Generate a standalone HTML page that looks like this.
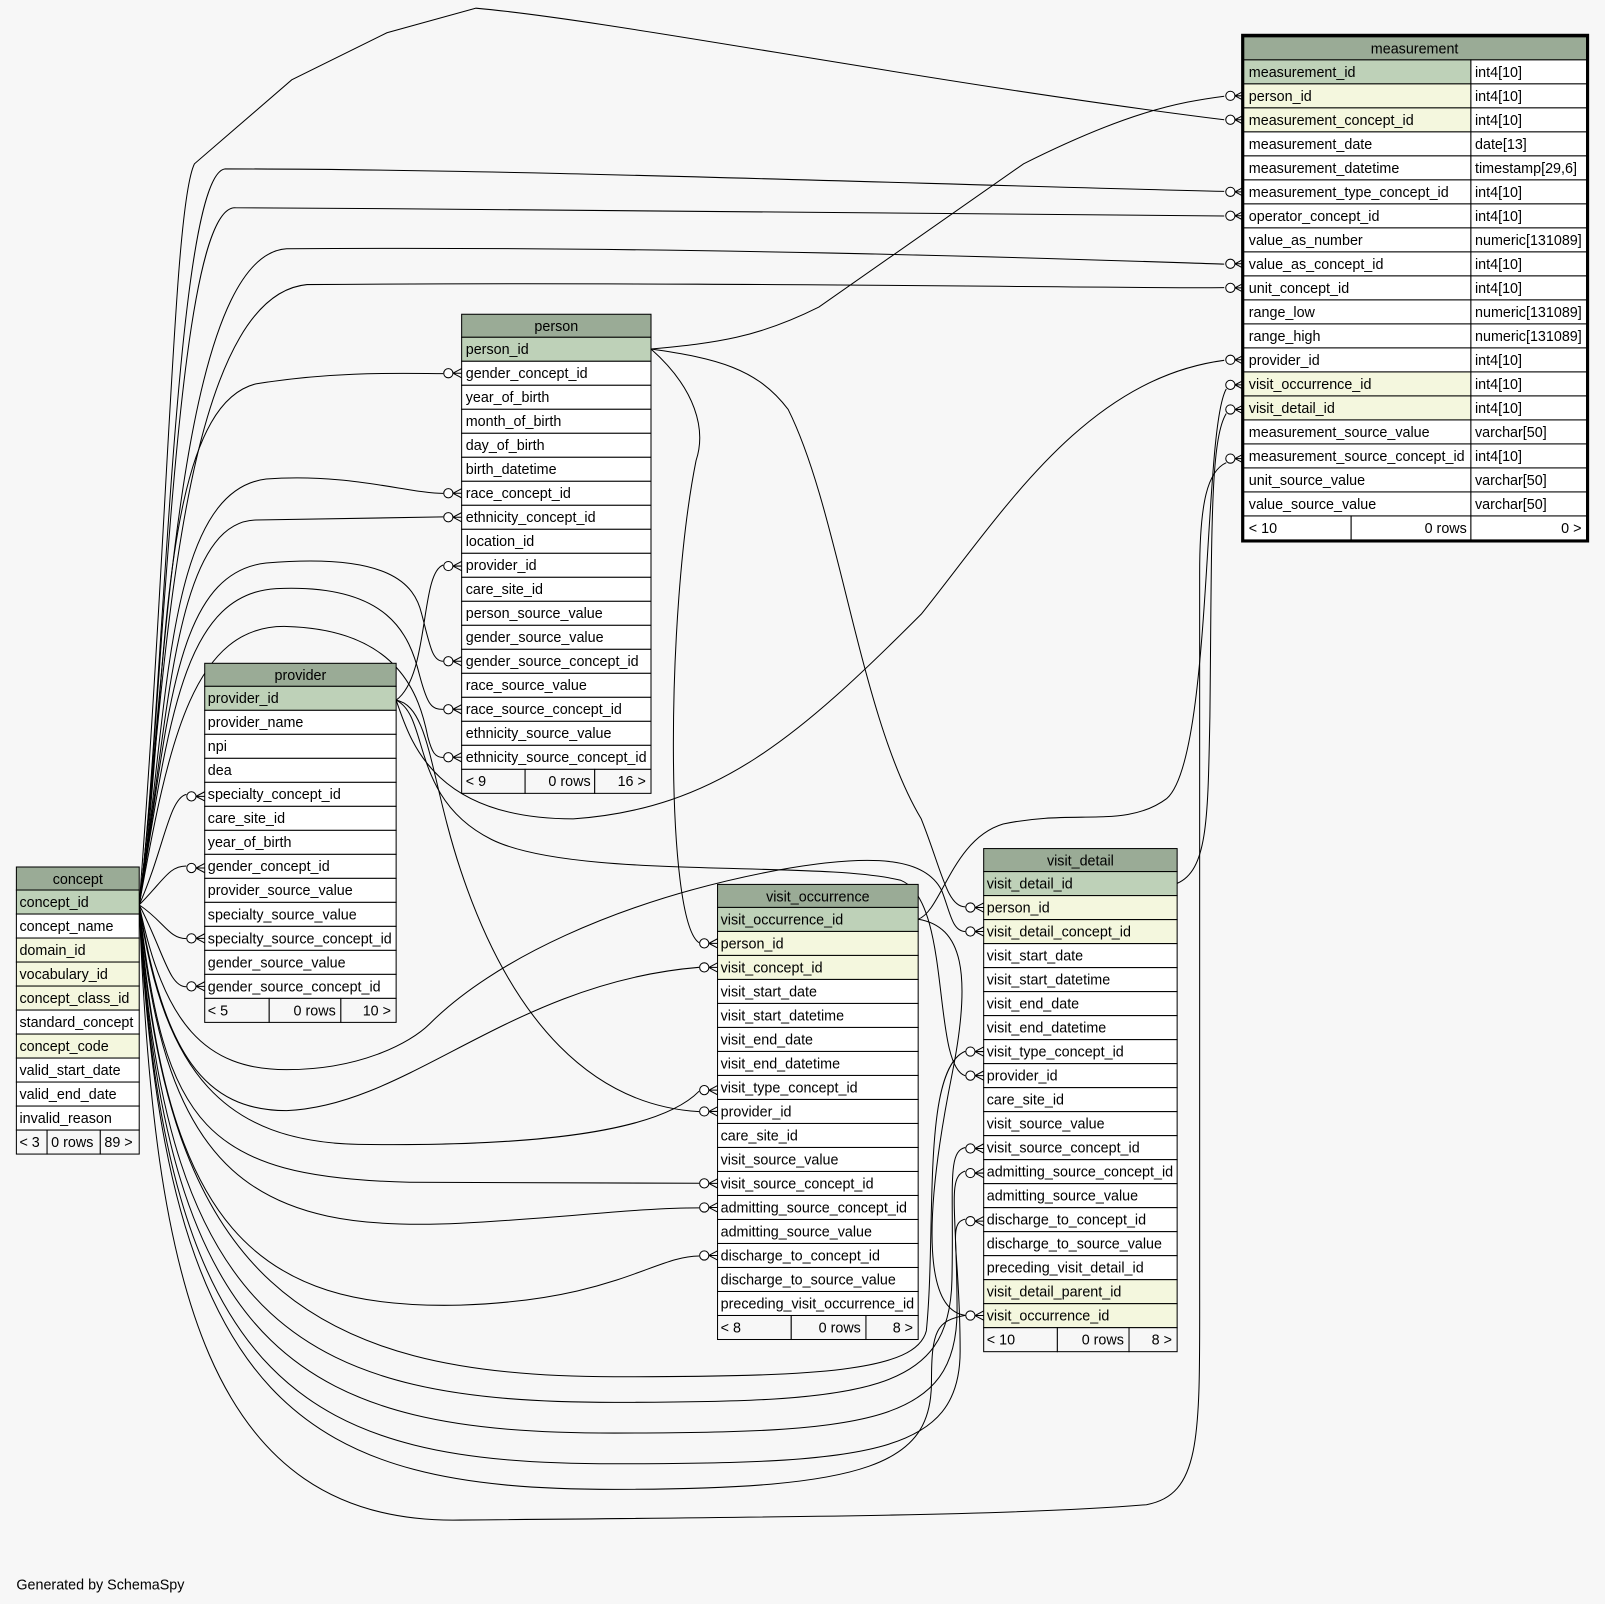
<!DOCTYPE html>
<html><head><meta charset="utf-8"><style>
html,body{margin:0;padding:0;background:#f7f7f7;width:1605px;height:1604px;overflow:hidden}
svg{display:block}
text{font-family:"Liberation Sans",Arial,sans-serif;font-size:14px;fill:#000}
.h{fill:#9aab96;stroke:#000;stroke-width:1}
.pk{fill:#bed1b8;stroke:#000;stroke-width:1}
.fk{fill:#f4f7de;stroke:#000;stroke-width:1}
.w{fill:#fff;stroke:#000;stroke-width:1}
.f{fill:#f7f7f7;stroke:#000;stroke-width:1}
.e{fill:none;stroke:#000;stroke-width:1}
.c{fill:#fff;stroke:#000;stroke-width:1}
</style></head><body>
<svg width="1605" height="1604" viewBox="0 0 1568 1567" preserveAspectRatio="none" xmlns="http://www.w3.org/2000/svg">
<rect width="1568" height="1567" fill="#f7f7f7"/>
<defs>
<g id="m"><path class="e" d="M-8.5,0 L0,-4.5 M-8.5,0 L0,0 M-8.5,0 L0,4.5"/><circle class="c" cx="-13" cy="0" r="4.5"/></g>
</defs>
<!-- edges -->
<g class="e">
<path d="M136,884 C165,500 170,200 190,160 L285,78 L378,32 L465,8 C600,20 900,80 1196,117"/>
<path d="M136,884 C160,700 170,170 220,165 C500,165 900,180 1196,187"/>
<path d="M136,884 C160,700 170,200 230,203 C600,205 1000,207 1196,211"/>
<path d="M136,884 C160,700 170,250 280,243 C700,240 1100,255 1196,258"/>
<path d="M136,884 C160,700 170,290 300,278 C700,275 1100,282 1196,281"/>
<path d="M136,884 C150,1250 200,1490 450,1485 C800,1482 1000,1480 1120,1470 C1175,1460 1172,1400 1172,1250 L1172,560 C1172,490 1180,460 1198,452"/>
<path d="M636,341 C700,335 740,330 800,300 L1000,160 C1100,110 1150,100 1196,94"/>
<path d="M387,684 C400,720 420,800 560,800 C700,790 780,720 900,600 C980,500 1060,370 1196,352"/>
<path d="M897,898 C920,890 930,820 980,805 C1050,790 1100,810 1140,780 C1185,740 1175,420 1198,380"/>
<path d="M1150,863 C1180,850 1180,800 1182,700 C1184,520 1182,430 1198,404"/>
<path d="M136,884 C165,700 150,400 250,375 C330,362 400,365 433,365"/>
<path d="M136,884 C165,700 160,480 260,468 C340,462 400,482 433,482"/>
<path d="M136,884 C165,700 170,510 250,508 L433,505"/>
<path d="M136,884 C165,700 170,560 260,550 C380,540 405,570 412,600 C420,630 422,646 433,646"/>
<path d="M136,884 C165,700 180,580 270,575 C380,570 400,620 410,660 C418,690 422,693 433,693"/>
<path d="M136,884 C165,720 190,610 280,612 C390,615 410,680 418,720 C422,735 425,740 433,740"/>
<path d="M136,884 C160,830 165,780 182,776"/>
<path d="M136,884 C160,860 165,846 182,846"/>
<path d="M136,884 C160,900 165,917 182,917"/>
<path d="M136,884 C160,930 165,964 182,964"/>
<path d="M136,884 C160,1000 200,1045 280,1045 C350,1045 400,1020 420,1000 C480,940 600,880 760,850 C860,832 905,840 920,870 C928,890 930,910 943,910"/>
<path d="M136,884 C160,1030 200,1085 280,1085 C400,1080 500,960 683,945"/>
<path d="M136,884 C160,1050 220,1115 350,1118 C500,1120 640,1110 683,1066"/>
<path d="M136,884 C160,1100 200,1150 400,1155 L683,1156"/>
<path d="M136,884 C160,1150 250,1205 450,1195 C550,1190 620,1180 683,1180"/>
<path d="M136,884 C160,1200 250,1280 450,1275 C600,1270 640,1227 683,1227"/>
<path d="M136,884 C160,1250 300,1345 600,1345 C800,1345 895,1340 905,1300 C915,1200 900,1045 943,1027"/>
<path d="M136,884 C160,1300 300,1370 600,1370 C850,1370 928,1360 930,1250 C932,1160 925,1125 943,1121"/>
<path d="M136,884 C160,1330 300,1400 600,1400 C850,1400 935,1390 935,1280 C935,1180 925,1150 943,1144"/>
<path d="M136,884 C160,1360 300,1430 600,1430 C850,1430 938,1420 938,1320 C938,1220 925,1195 943,1191"/>
<path d="M136,884 C160,1380 300,1455 600,1455 C850,1455 910,1430 910,1350 C910,1300 915,1290 943,1285"/>
<path d="M636,341 C680,380 690,420 680,450 C650,600 650,900 683,921"/>
<path d="M636,341 C700,350 740,360 770,400 C820,500 840,700 900,800 C920,850 925,886 943,886"/>
<path d="M387,684 C420,660 410,560 433,552"/>
<path d="M387,684 C420,690 420,760 450,850 C500,1000 580,1080 683,1086"/>
<path d="M387,684 C420,700 400,780 480,820 C560,860 800,840 880,860 C930,880 910,1040 943,1051"/>
<path d="M897,898 C940,905 950,950 930,1050 C900,1200 905,1280 943,1285"/>
</g>
<!-- markers -->
<use href="#m" x="1215" y="93.6"/><use href="#m" x="1215" y="117"/><use href="#m" x="1215" y="187.4"/><use href="#m" x="1215" y="210.8"/><use href="#m" x="1215" y="257.7"/><use href="#m" x="1215" y="281.2"/><use href="#m" x="1215" y="351.5"/><use href="#m" x="1215" y="376"/><use href="#m" x="1215" y="400"/><use href="#m" x="1215" y="448"/>
<use href="#m" x="451" y="364.6"/><use href="#m" x="451" y="481.9"/><use href="#m" x="451" y="505.3"/><use href="#m" x="451" y="553"/><use href="#m" x="451" y="646"/><use href="#m" x="451" y="692.9"/><use href="#m" x="451" y="739.8"/>
<use href="#m" x="200" y="778"/><use href="#m" x="200" y="848"/><use href="#m" x="200" y="916.7"/><use href="#m" x="200" y="963.6"/>
<use href="#m" x="701" y="921.6"/><use href="#m" x="701" y="945.1"/><use href="#m" x="701" y="1065"/><use href="#m" x="701" y="1085.8"/><use href="#m" x="701" y="1156.1"/><use href="#m" x="701" y="1179.6"/><use href="#m" x="701" y="1226.5"/>
<use href="#m" x="961" y="886.6"/><use href="#m" x="961" y="910"/><use href="#m" x="961" y="1027.3"/><use href="#m" x="961" y="1050.8"/><use href="#m" x="961" y="1122"/><use href="#m" x="961" y="1146"/><use href="#m" x="961" y="1193"/><use href="#m" x="961" y="1285.2"/>

<!-- measurement -->
<g transform="translate(1215,58.5)">
<rect class="h" x="0" y="-22.5" width="335" height="22.5"/><text x="167" y="-6" text-anchor="middle">measurement</text>
<rect class="pk" x="0" y="0" width="222" height="23.45"/><rect class="w" x="222" y="0" width="113" height="23.45"/>
<rect class="fk" x="0" y="23.45" width="222" height="23.45"/><rect class="w" x="222" y="23.45" width="113" height="23.45"/>
<rect class="fk" x="0" y="46.9" width="222" height="23.45"/><rect class="w" x="222" y="46.9" width="113" height="23.45"/>
<rect class="w" x="0" y="70.35" width="222" height="23.45"/><rect class="w" x="222" y="70.35" width="113" height="23.45"/>
<rect class="w" x="0" y="93.8" width="222" height="23.45"/><rect class="w" x="222" y="93.8" width="113" height="23.45"/>
<rect class="w" x="0" y="117.25" width="222" height="23.45"/><rect class="w" x="222" y="117.25" width="113" height="23.45"/>
<rect class="w" x="0" y="140.7" width="222" height="23.45"/><rect class="w" x="222" y="140.7" width="113" height="23.45"/>
<rect class="w" x="0" y="164.15" width="222" height="23.45"/><rect class="w" x="222" y="164.15" width="113" height="23.45"/>
<rect class="w" x="0" y="187.6" width="222" height="23.45"/><rect class="w" x="222" y="187.6" width="113" height="23.45"/>
<rect class="w" x="0" y="211.05" width="222" height="23.45"/><rect class="w" x="222" y="211.05" width="113" height="23.45"/>
<rect class="w" x="0" y="234.5" width="222" height="23.45"/><rect class="w" x="222" y="234.5" width="113" height="23.45"/>
<rect class="w" x="0" y="257.95" width="222" height="23.45"/><rect class="w" x="222" y="257.95" width="113" height="23.45"/>
<rect class="w" x="0" y="281.4" width="222" height="23.45"/><rect class="w" x="222" y="281.4" width="113" height="23.45"/>
<rect class="fk" x="0" y="304.85" width="222" height="23.45"/><rect class="w" x="222" y="304.85" width="113" height="23.45"/>
<rect class="fk" x="0" y="328.3" width="222" height="23.45"/><rect class="w" x="222" y="328.3" width="113" height="23.45"/>
<rect class="w" x="0" y="351.75" width="222" height="23.45"/><rect class="w" x="222" y="351.75" width="113" height="23.45"/>
<rect class="w" x="0" y="375.2" width="222" height="23.45"/><rect class="w" x="222" y="375.2" width="113" height="23.45"/>
<rect class="w" x="0" y="398.65" width="222" height="23.45"/><rect class="w" x="222" y="398.65" width="113" height="23.45"/>
<rect class="w" x="0" y="422.1" width="222" height="23.45"/><rect class="w" x="222" y="422.1" width="113" height="23.45"/>
<rect class="w" x="0" y="445.55" width="105" height="23.45"/><rect class="w" x="105" y="445.55" width="117" height="23.45"/><rect class="w" x="222" y="445.55" width="113" height="23.45"/>
<g transform="translate(5,16.5)">
<text y="0">measurement_id</text><text y="23.45">person_id</text><text y="46.9">measurement_concept_id</text><text y="70.35">measurement_date</text><text y="93.8">measurement_datetime</text><text y="117.25">measurement_type_concept_id</text><text y="140.7">operator_concept_id</text><text y="164.15">value_as_number</text><text y="187.6">value_as_concept_id</text><text y="211.05">unit_concept_id</text><text y="234.5">range_low</text><text y="257.95">range_high</text><text y="281.4">provider_id</text><text y="304.85">visit_occurrence_id</text><text y="328.3">visit_detail_id</text><text y="351.75">measurement_source_value</text><text y="375.2">measurement_source_concept_id</text><text y="398.65">unit_source_value</text><text y="422.1">value_source_value</text><text y="445.55">&lt; 10</text>
</g>
<g transform="translate(226,16.5)">
<text y="0">int4[10]</text><text y="23.45">int4[10]</text><text y="46.9">int4[10]</text><text y="70.35">date[13]</text><text y="93.8">timestamp[29,6]</text><text y="117.25">int4[10]</text><text y="140.7">int4[10]</text><text y="164.15">numeric[131089]</text><text y="187.6">int4[10]</text><text y="211.05">int4[10]</text><text y="234.5">numeric[131089]</text><text y="257.95">numeric[131089]</text><text y="281.4">int4[10]</text><text y="304.85">int4[10]</text><text y="328.3">int4[10]</text><text y="351.75">varchar[50]</text><text y="375.2">int4[10]</text><text y="398.65">varchar[50]</text><text y="422.1">varchar[50]</text>
</g>
<text x="218" y="462" text-anchor="end">0 rows</text><text x="330" y="462" text-anchor="end">0 &gt;</text>
<rect x="-1" y="-24" width="337" height="494" fill="none" stroke="#000" stroke-width="3"/>
</g>

<!-- person -->
<g transform="translate(451,329.5)">
<rect class="h" x="0" y="-22.5" width="185" height="22.5"/><text x="92.5" y="-6" text-anchor="middle">person</text>
<rect class="pk" x="0" y="0" width="185" height="23.45"/>
<rect class="w" x="0" y="23.45" width="185" height="23.45"/><rect class="w" x="0" y="46.9" width="185" height="23.45"/><rect class="w" x="0" y="70.35" width="185" height="23.45"/><rect class="w" x="0" y="93.8" width="185" height="23.45"/><rect class="w" x="0" y="117.25" width="185" height="23.45"/><rect class="w" x="0" y="140.7" width="185" height="23.45"/><rect class="w" x="0" y="164.15" width="185" height="23.45"/><rect class="w" x="0" y="187.6" width="185" height="23.45"/><rect class="w" x="0" y="211.05" width="185" height="23.45"/><rect class="w" x="0" y="234.5" width="185" height="23.45"/><rect class="w" x="0" y="257.95" width="185" height="23.45"/><rect class="w" x="0" y="281.4" width="185" height="23.45"/><rect class="w" x="0" y="304.85" width="185" height="23.45"/><rect class="w" x="0" y="328.3" width="185" height="23.45"/><rect class="w" x="0" y="351.75" width="185" height="23.45"/><rect class="w" x="0" y="375.2" width="185" height="23.45"/><rect class="w" x="0" y="398.65" width="185" height="23.45"/>
<rect class="f" x="0" y="422.1" width="62" height="23.45"/><rect class="f" x="62" y="422.1" width="68" height="23.45"/><rect class="f" x="130" y="422.1" width="55" height="23.45"/>
<g transform="translate(4,16.5)">
<text y="0">person_id</text><text y="23.45">gender_concept_id</text><text y="46.9">year_of_birth</text><text y="70.35">month_of_birth</text><text y="93.8">day_of_birth</text><text y="117.25">birth_datetime</text><text y="140.7">race_concept_id</text><text y="164.15">ethnicity_concept_id</text><text y="187.6">location_id</text><text y="211.05">provider_id</text><text y="234.5">care_site_id</text><text y="257.95">person_source_value</text><text y="281.4">gender_source_value</text><text y="304.85">gender_source_concept_id</text><text y="328.3">race_source_value</text><text y="351.75">race_source_concept_id</text><text y="375.2">ethnicity_source_value</text><text y="398.65">ethnicity_source_concept_id</text><text y="422.1">&lt; 9</text>
</g>
<text x="126" y="438.6" text-anchor="end">0 rows</text><text x="180" y="438.6" text-anchor="end">16 &gt;</text>
</g>

<!-- provider -->
<g transform="translate(200,670.5)">
<rect class="h" x="0" y="-22.5" width="187" height="22.5"/><text x="93.5" y="-6" text-anchor="middle">provider</text>
<rect class="pk" x="0" y="0" width="187" height="23.45"/>
<rect class="w" x="0" y="23.45" width="187" height="23.45"/><rect class="w" x="0" y="46.9" width="187" height="23.45"/><rect class="w" x="0" y="70.35" width="187" height="23.45"/><rect class="w" x="0" y="93.8" width="187" height="23.45"/><rect class="w" x="0" y="117.25" width="187" height="23.45"/><rect class="w" x="0" y="140.7" width="187" height="23.45"/><rect class="w" x="0" y="164.15" width="187" height="23.45"/><rect class="w" x="0" y="187.6" width="187" height="23.45"/><rect class="w" x="0" y="211.05" width="187" height="23.45"/><rect class="w" x="0" y="234.5" width="187" height="23.45"/><rect class="w" x="0" y="257.95" width="187" height="23.45"/><rect class="w" x="0" y="281.4" width="187" height="23.45"/>
<rect class="f" x="0" y="304.85" width="63" height="23.45"/><rect class="f" x="63" y="304.85" width="70" height="23.45"/><rect class="f" x="133" y="304.85" width="54" height="23.45"/>
<g transform="translate(3,16.5)">
<text y="0">provider_id</text><text y="23.45">provider_name</text><text y="46.9">npi</text><text y="70.35">dea</text><text y="93.8">specialty_concept_id</text><text y="117.25">care_site_id</text><text y="140.7">year_of_birth</text><text y="164.15">gender_concept_id</text><text y="187.6">provider_source_value</text><text y="211.05">specialty_source_value</text><text y="234.5">specialty_source_concept_id</text><text y="257.95">gender_source_value</text><text y="281.4">gender_source_concept_id</text><text y="304.85">&lt; 5</text>
</g>
<text x="128" y="321.35" text-anchor="end">0 rows</text><text x="182" y="321.35" text-anchor="end">10 &gt;</text>
</g>

<!-- concept -->
<g transform="translate(16,869.5)">
<rect class="h" x="0" y="-22.5" width="120" height="22.5"/><text x="60" y="-6" text-anchor="middle">concept</text>
<rect class="pk" x="0" y="0" width="120" height="23.45"/>
<rect class="w" x="0" y="23.45" width="120" height="23.45"/><rect class="fk" x="0" y="46.9" width="120" height="23.45"/><rect class="fk" x="0" y="70.35" width="120" height="23.45"/><rect class="fk" x="0" y="93.8" width="120" height="23.45"/><rect class="w" x="0" y="117.25" width="120" height="23.45"/><rect class="fk" x="0" y="140.7" width="120" height="23.45"/><rect class="w" x="0" y="164.15" width="120" height="23.45"/><rect class="w" x="0" y="187.6" width="120" height="23.45"/><rect class="w" x="0" y="211.05" width="120" height="23.45"/>
<rect class="f" x="0" y="234.5" width="30" height="23.45"/><rect class="f" x="30" y="234.5" width="52" height="23.45"/><rect class="f" x="82" y="234.5" width="38" height="23.45"/>
<g transform="translate(3,16.5)">
<text y="0">concept_id</text><text y="23.45">concept_name</text><text y="46.9">domain_id</text><text y="70.35">vocabulary_id</text><text y="93.8">concept_class_id</text><text y="117.25">standard_concept</text><text y="140.7">concept_code</text><text y="164.15">valid_start_date</text><text y="187.6">valid_end_date</text><text y="211.05">invalid_reason</text><text y="234.5">&lt; 3</text>
</g>
<text x="34" y="251" >0 rows</text><text x="86" y="251">89 &gt;</text>
</g>

<!-- visit_occurrence -->
<g transform="translate(701,886.5)">
<rect class="h" x="0" y="-22.5" width="196" height="22.5"/><text x="98" y="-6" text-anchor="middle">visit_occurrence</text>
<rect class="pk" x="0" y="0" width="196" height="23.45"/>
<rect class="fk" x="0" y="23.45" width="196" height="23.45"/><rect class="fk" x="0" y="46.9" width="196" height="23.45"/><rect class="w" x="0" y="70.35" width="196" height="23.45"/><rect class="w" x="0" y="93.8" width="196" height="23.45"/><rect class="w" x="0" y="117.25" width="196" height="23.45"/><rect class="w" x="0" y="140.7" width="196" height="23.45"/><rect class="w" x="0" y="164.15" width="196" height="23.45"/><rect class="w" x="0" y="187.6" width="196" height="23.45"/><rect class="w" x="0" y="211.05" width="196" height="23.45"/><rect class="w" x="0" y="234.5" width="196" height="23.45"/><rect class="w" x="0" y="257.95" width="196" height="23.45"/><rect class="w" x="0" y="281.4" width="196" height="23.45"/><rect class="w" x="0" y="304.85" width="196" height="23.45"/><rect class="w" x="0" y="328.3" width="196" height="23.45"/><rect class="w" x="0" y="351.75" width="196" height="23.45"/><rect class="w" x="0" y="375.2" width="196" height="23.45"/>
<rect class="f" x="0" y="398.65" width="72" height="23.45"/><rect class="f" x="72" y="398.65" width="73" height="23.45"/><rect class="f" x="145" y="398.65" width="51" height="23.45"/>
<g transform="translate(3,16.5)">
<text y="0">visit_occurrence_id</text><text y="23.45">person_id</text><text y="46.9">visit_concept_id</text><text y="70.35">visit_start_date</text><text y="93.8">visit_start_datetime</text><text y="117.25">visit_end_date</text><text y="140.7">visit_end_datetime</text><text y="164.15">visit_type_concept_id</text><text y="187.6">provider_id</text><text y="211.05">care_site_id</text><text y="234.5">visit_source_value</text><text y="257.95">visit_source_concept_id</text><text y="281.4">admitting_source_concept_id</text><text y="304.85">admitting_source_value</text><text y="328.3">discharge_to_concept_id</text><text y="351.75">discharge_to_source_value</text><text y="375.2">preceding_visit_occurrence_id</text><text y="398.65">&lt; 8</text>
</g>
<text x="140" y="415.15" text-anchor="end">0 rows</text><text x="191" y="415.15" text-anchor="end">8 &gt;</text>
</g>

<!-- visit_detail -->
<g transform="translate(961,851.5)">
<rect class="h" x="0" y="-22.5" width="189" height="22.5"/><text x="94.5" y="-6" text-anchor="middle">visit_detail</text>
<rect class="pk" x="0" y="0" width="189" height="23.45"/>
<rect class="fk" x="0" y="23.45" width="189" height="23.45"/><rect class="fk" x="0" y="46.9" width="189" height="23.45"/><rect class="w" x="0" y="70.35" width="189" height="23.45"/><rect class="w" x="0" y="93.8" width="189" height="23.45"/><rect class="w" x="0" y="117.25" width="189" height="23.45"/><rect class="w" x="0" y="140.7" width="189" height="23.45"/><rect class="w" x="0" y="164.15" width="189" height="23.45"/><rect class="w" x="0" y="187.6" width="189" height="23.45"/><rect class="w" x="0" y="211.05" width="189" height="23.45"/><rect class="w" x="0" y="234.5" width="189" height="23.45"/><rect class="w" x="0" y="257.95" width="189" height="23.45"/><rect class="w" x="0" y="281.4" width="189" height="23.45"/><rect class="w" x="0" y="304.85" width="189" height="23.45"/><rect class="w" x="0" y="328.3" width="189" height="23.45"/><rect class="w" x="0" y="351.75" width="189" height="23.45"/><rect class="w" x="0" y="375.2" width="189" height="23.45"/><rect class="fk" x="0" y="398.65" width="189" height="23.45"/><rect class="fk" x="0" y="422.1" width="189" height="23.45"/>
<rect class="f" x="0" y="445.55" width="72" height="23.45"/><rect class="f" x="72" y="445.55" width="70" height="23.45"/><rect class="f" x="142" y="445.55" width="47" height="23.45"/>
<g transform="translate(3,16.5)">
<text y="0">visit_detail_id</text><text y="23.45">person_id</text><text y="46.9">visit_detail_concept_id</text><text y="70.35">visit_start_date</text><text y="93.8">visit_start_datetime</text><text y="117.25">visit_end_date</text><text y="140.7">visit_end_datetime</text><text y="164.15">visit_type_concept_id</text><text y="187.6">provider_id</text><text y="211.05">care_site_id</text><text y="234.5">visit_source_value</text><text y="257.95">visit_source_concept_id</text><text y="281.4">admitting_source_concept_id</text><text y="304.85">admitting_source_value</text><text y="328.3">discharge_to_concept_id</text><text y="351.75">discharge_to_source_value</text><text y="375.2">preceding_visit_detail_id</text><text y="398.65">visit_detail_parent_id</text><text y="422.1">visit_occurrence_id</text><text y="445.55">&lt; 10</text>
</g>
<text x="137" y="462" text-anchor="end">0 rows</text><text x="184" y="462" text-anchor="end">8 &gt;</text>
</g>

<text x="16" y="1553">Generated by SchemaSpy</text>
</svg>
</body></html>
